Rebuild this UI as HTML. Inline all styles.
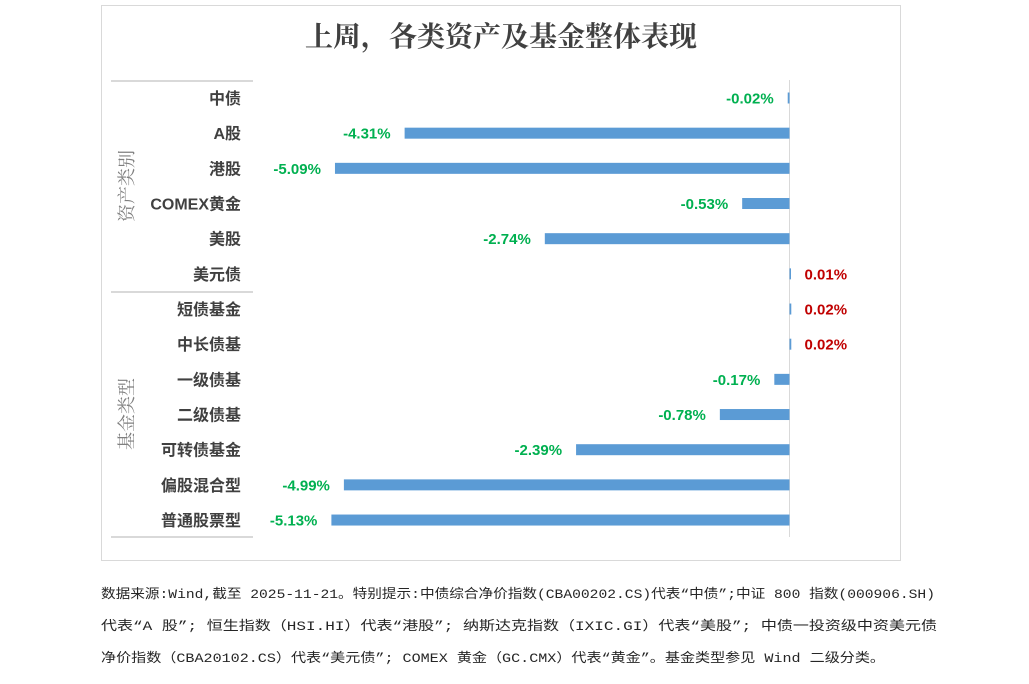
<!DOCTYPE html>
<html><head><meta charset="utf-8"><style>
body{margin:0;background:#fff;}
svg{display:block;}
</style></head><body>
<svg width="1029" height="684" xmlns="http://www.w3.org/2000/svg">
<rect x="101.5" y="5.5" width="799" height="555" fill="#fff" stroke="#d9d9d9"/>
<text x="501" y="46" text-anchor="middle" textLength="392" lengthAdjust="spacingAndGlyphs" font-family="'Liberation Serif','Noto Serif CJK SC',serif" font-size="28" font-weight="bold" fill="#404040">上周，各类资产及基金整体表现</text>
<g id="axis">
<line x1="111" y1="81" x2="253" y2="81" stroke="#d9d9d9" stroke-width="2"/>
<line x1="111" y1="292" x2="253" y2="292" stroke="#d9d9d9" stroke-width="2"/>
<line x1="111" y1="537" x2="253" y2="537" stroke="#d9d9d9" stroke-width="2"/>
<text transform="translate(133,186) rotate(-90)" text-anchor="middle" font-family="'Liberation Serif','Noto Serif CJK SC',serif" font-size="18" fill="#7f7f7f">资产类别</text>
<text transform="translate(133,414) rotate(-90)" text-anchor="middle" font-family="'Liberation Serif','Noto Serif CJK SC',serif" font-size="18" fill="#7f7f7f">基金类型</text>
</g>
<line x1="789.5" y1="80" x2="789.5" y2="537" stroke="#d9d9d9"/>
<g id="bars"></g>
<g font-family="'Liberation Mono','Noto Sans CJK SC',monospace" font-size="13" fill="#262626">
<text x="101" y="598" textLength="834" lengthAdjust="spacingAndGlyphs">数据来源:Wind,截至 2025-11-21。特别提示:中债综合净价指数(CBA00202.CS)代表“中债”;中证 800 指数(000906.SH)</text>
<text x="101" y="630" textLength="836" lengthAdjust="spacingAndGlyphs">代表“A 股”; 恒生指数（HSI.HI）代表“港股”; 纳斯达克指数（IXIC.GI）代表“美股”; 中债一投资级中资美元债</text>
<text x="101" y="662" textLength="784" lengthAdjust="spacingAndGlyphs">净价指数（CBA20102.CS）代表“美元债”; COMEX 黄金（GC.CMX）代表“黄金”。基金类型参见 Wind 二级分类。</text>
</g>
</svg>
<script>
const categories=["中债","A股","港股","COMEX黄金","美股","美元债","短债基金","中长债基","一级债基","二级债基","可转债基金","偏股混合型","普通股票型"];
const values=[-0.02,-4.31,-5.09,-0.53,-2.74,0.01,0.02,0.02,-0.17,-0.78,-2.39,-4.99,-5.13];
const valueLabels=["-0.02%","-4.31%","-5.09%","-0.53%","-2.74%","0.01%","0.02%","0.02%","-0.17%","-0.78%","-2.39%","-4.99%","-5.13%"];
const NS="http://www.w3.org/2000/svg";
const x0=789.5, pxPer=89.3;
function xs(v){return x0+v*pxPer;}
function ys(i){return 98+i*35.17;}
const g=document.getElementById('bars');
const ax=document.getElementById('axis');
categories.forEach((c,i)=>{
  const y=ys(i);
  const t=document.createElementNS(NS,'text');
  t.setAttribute('x',241);t.setAttribute('y',y+6);t.setAttribute('text-anchor','end');
  t.setAttribute('font-family',"'Liberation Sans','Noto Sans CJK SC',sans-serif");
  t.setAttribute('font-size','16');t.setAttribute('font-weight','bold');t.setAttribute('fill','#404040');
  t.textContent=c;
  
  
  ax.appendChild(t);
  const v=values[i];
  const r=document.createElementNS(NS,'rect');
  const a=xs(v), b=Math.max(Math.abs(xs(0)-a),1.5);
  r.setAttribute('x',Math.min(a,xs(0)));r.setAttribute('y',y-5.5);r.setAttribute('width',b);r.setAttribute('height',11);
  r.setAttribute('fill','#5b9bd5');
  
  
  g.appendChild(r);
  const l=document.createElementNS(NS,'text');
  l.setAttribute('font-family',"'Liberation Sans',sans-serif");
  l.setAttribute('font-size','15');l.setAttribute('font-weight','bold');
  if(v<0){l.setAttribute('x',Math.min(a,xs(0)-1.5)-14);l.setAttribute('text-anchor','end');l.setAttribute('fill','#00b050');}
  else{l.setAttribute('x',xs(0)+15);l.setAttribute('text-anchor','start');l.setAttribute('fill','#c00000');}
  l.setAttribute('y',y+5.5);
  l.textContent=valueLabels[i];
  
  
  g.appendChild(l);
});
</script>
</body></html>
